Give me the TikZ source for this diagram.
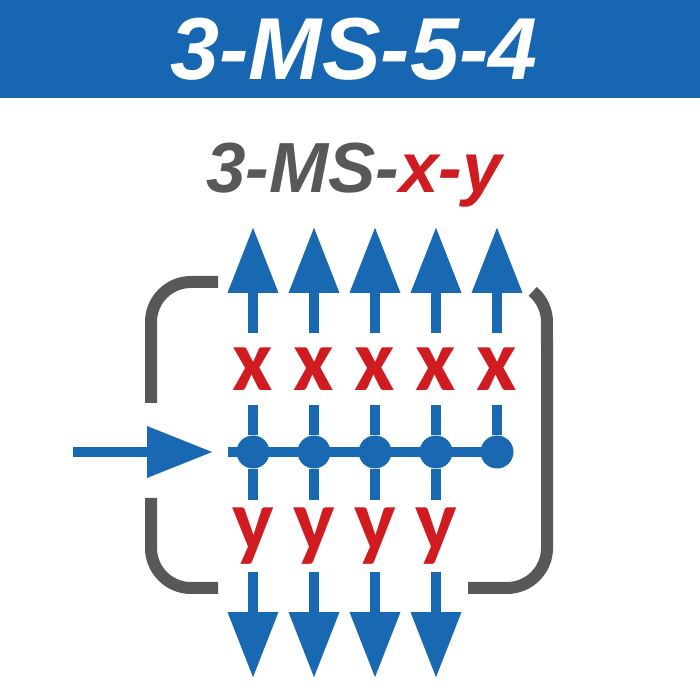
\documentclass[tikz,border=0pt]{standalone}
\usepackage{fontspec}
\setmainfont{Liberation Sans}
\newfontfamily\lblfont{Carlito}
\usetikzlibrary{arrows.meta,positioning}

\definecolor{hdrblue}{RGB}{22,102,177}
\definecolor{flowblue}{RGB}{24,104,178}
\definecolor{labred}{RGB}{208,28,32}
\definecolor{brgray}{RGB}{88,88,88}

\begin{document}
\begin{tikzpicture}[x=1pt, y=1pt,
    shaft/.style={draw=flowblue, line width=10pt},
    bigarrow/.style={shaft, -{Triangle[length=66pt, width=48pt]}},
    dot/.style={circle, fill=flowblue, minimum size=33pt, inner sep=0pt},
    xlbl/.style={text=labred, font=\lblfont\fontsize{88}{88}\selectfont\bfseries, inner sep=0pt, minimum height=72pt},
    bracket/.style={draw=brgray, line width=12pt}]
    \useasboundingbox (0,0) rectangle (700,700);
    % header
    \fill[hdrblue] (0,602) rectangle (700,700);
    \node[anchor=base, text=white, font=\fontsize{88}{88}\selectfont\bfseries\itshape] (hdr) at (354,620) {3-MS-5-4};
    \node[anchor=base, font=\fontsize{71}{71}\selectfont\bfseries\itshape] (name) at (354,507) {\textcolor{brgray}{3-MS-}\textcolor{labred}{x-y}};
    % nodes on the main line
    \node[dot] (d1) at (253,248) {};
    \node[dot] (d2) at (314,248) {};
    \node[dot] (d3) at (375,248) {};
    \node[dot] (d4) at (436,248) {};
    \node[dot] (d5) at (497,248) {};
    \node[xlbl, above=30pt of d1] (x1) {x};
    \node[xlbl, above=30pt of d2] (x2) {x};
    \node[xlbl, above=30pt of d3] (x3) {x};
    \node[xlbl, above=30pt of d4] (x4) {x};
    \node[xlbl, above=30pt of d5] (x5) {x};
    \node[xlbl, below=31pt of d1] (y1) {y};
    \node[xlbl, below=31pt of d2] (y2) {y};
    \node[xlbl, below=31pt of d3] (y3) {y};
    \node[xlbl, below=31pt of d4] (y4) {y};
    \coordinate[above=106pt of x1] (t1);
    \coordinate[above=106pt of x2] (t2);
    \coordinate[above=106pt of x3] (t3);
    \coordinate[above=106pt of x4] (t4);
    \coordinate[above=106pt of x5] (t5);
    \coordinate[below=106pt of y1] (e1);
    \coordinate[below=106pt of y2] (e2);
    \coordinate[below=106pt of y3] (e3);
    \coordinate[below=106pt of y4] (e4);
    \coordinate (in) at (73,248);
    \coordinate (hs) at (228,248);
    % feed and main line
    \draw[bigarrow, -{Triangle[length=66pt, width=49pt]}, shorten >=15pt] (in) -- (hs);
    \draw[shaft] (hs) -- (d5.center);
    % upward outputs
    \draw[shaft] (d1) -- (x1);  \draw[bigarrow] (x1) -- (t1);
    \draw[shaft] (d2) -- (x2);  \draw[bigarrow] (x2) -- (t2);
    \draw[shaft] (d3) -- (x3);  \draw[bigarrow] (x3) -- (t3);
    \draw[shaft] (d4) -- (x4);  \draw[bigarrow] (x4) -- (t4);
    \draw[shaft] (d5) -- (x5);  \draw[bigarrow] (x5) -- (t5);
    % downward outputs
    \draw[shaft] (d1) -- (y1);  \draw[bigarrow] (y1) -- (e1);
    \draw[shaft] (d2) -- (y2);  \draw[bigarrow] (y2) -- (e2);
    \draw[shaft] (d3) -- (y3);  \draw[bigarrow] (y3) -- (e3);
    \draw[shaft] (d4) -- (y4);  \draw[bigarrow] (y4) -- (e4);
    % brackets
    \draw[bracket, rounded corners=40pt] (218,418) -- (151,418) -- (151,297);
    \draw[bracket, rounded corners=40pt] (151,202) -- (151,112) -- (218,112);
    \draw[bracket] (532.7,408.6) arc[start angle=50, end angle=0, radius=40]
        [rounded corners=40pt] -- (547,112) -- (468,112);
\end{tikzpicture}
\end{document}
